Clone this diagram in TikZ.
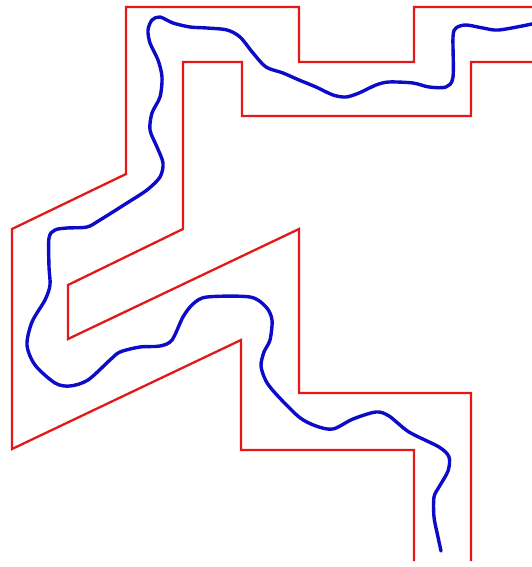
\documentclass[tikz,border=0pt]{standalone}
\usepackage{tikz}
\definecolor{wallcol}{RGB}{225, 25, 25}
\definecolor{wigglecol}{RGB}{12, 12, 200}
\tikzset{
  wall/.style   = {draw=wallcol, line width=2.3pt, line join=miter},
  wiggle/.style = {draw=wigglecol, line width=3.4pt, line cap=round,
                   line join=round},
}

\begin{document}
\begin{tikzpicture}[x=1pt, y=-1pt]
  \useasboundingbox (0,0) rectangle (532,567);

  %% ---------------- the outer wall ----------------
  \draw[wall] (532,7) -- (414,7) -- (414,62) -- (299,62) -- (299,7)
       -- (126,7) -- (126,174) -- (12,229) -- (12,449) -- (241,340)
       -- (241,450) -- (414,450) -- (414,561);

  %% ---------------- the inner wall ----------------
  \draw[wall] (532,62) -- (471,62) -- (471,116) -- (242,116) -- (242,62)
       -- (183,62) -- (183,229) -- (68,285) -- (68,339) -- (299,229)
       -- (299,393) -- (471,393) -- (471,561);

  %% ---------------- the wiggle between them ----------------
  \draw[wiggle] plot[smooth, tension=0.5] coordinates {
       (532,24) (499,30) (483,28) (466,25) (456,28) (453,37) (453,77)
       (446,87) (429,87) (413,83) (389,82) (376,85) (359,93) (346,97)
       (333,95) (316,87) (299,80) (283,73) (266,67) (253,53) (240,37)
       (227,30) (207,28) (190,27) (173,23) (160,17) (152,20) (148,30)
       (150,43) (158,60) (162,77) (160,97) (152,113) (150,130) (157,147)
       (163,163) (160,177) (147,190) (127,203) (100,220) (87,227) (67,228)
       (55,230) (49,238) (49,267) (50,285) (45,300) (32,322) (27,345)
       (35,365) (55,383) (70,386) (88,380) (110,360) (120,352) (140,347)
       (160,346) (172,340) (183,317) (193,304) (207,297) (250,297)
       (266,307) (272,320) (270,340) (264,352) (261,366) (266,381)
       (276,394) (299,417) (316,426) (333,429) (353,419) (376,412)
       (389,416) (409,432) (439,447) (449,457) (448,471) (439,487)
       (434,497) (434,517) (438,537) (441,551)};

\end{tikzpicture}
\end{document}
